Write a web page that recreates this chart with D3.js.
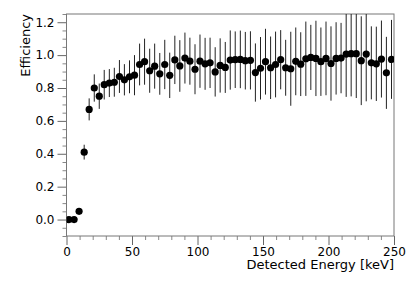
<!DOCTYPE html>
<html>
<head>
<meta charset="utf-8">
<script src="https://cdn.jsdelivr.net/npm/d3@7"></script>
<style>
  body { margin: 0; background: #fff; }
  text { font-family: "DejaVu Sans", sans-serif; }
</style>
</head>
<body>
<svg id="chart" width="415" height="281"></svg>
<script>
// bin centres of the detected energy histogram [keV]
var energies = [1.9, 5.8, 9.6, 13.5, 17.3, 21.2, 25.0, 28.8, 32.7, 36.5,
    40.4, 44.2, 48.1, 51.9, 55.8, 59.6, 63.5, 67.3, 71.2, 75.0,
    78.8, 82.7, 86.5, 90.4, 94.2, 98.1, 101.9, 105.8, 109.6, 113.5,
    117.3, 121.2, 125.0, 128.8, 132.7, 136.5, 140.4, 144.2, 148.1, 151.9,
    155.8, 159.6, 163.5, 167.3, 171.2, 175.0, 178.8, 182.7, 186.5, 190.4,
    194.2, 198.1, 201.9, 205.8, 209.6, 213.5, 217.3, 221.2, 225.0, 228.8,
    232.7, 236.5, 240.4, 244.2, 248.1];

var efficiency = [0.0, 0.0, 0.05, 0.41, 0.67, 0.80, 0.75, 0.82, 0.83, 0.835,
    0.87, 0.85, 0.868, 0.878, 0.943, 0.96, 0.905, 0.933, 0.886, 0.943,
    0.877, 0.971, 0.934, 0.982, 0.963, 0.914, 0.963, 0.947, 0.953, 0.898,
    0.937, 0.925, 0.97, 0.972, 0.974, 0.966, 0.968, 0.894, 0.92, 0.96,
    0.923, 0.943, 0.972, 0.923, 0.917, 0.962, 0.945, 0.978, 0.986, 0.98,
    0.96, 0.98, 0.949, 0.98, 0.982, 1.006, 1.009, 1.009, 0.966, 1.006,
    0.953, 0.947, 0.976, 0.892, 0.974];

var errors = [0, 0, 0.01, 0.045, 0.067, 0.083, 0.077, 0.09, 0.085, 0.088,
    0.1, 0.095, 0.1, 0.122, 0.127, 0.14, 0.134, 0.137, 0.127, 0.15,
    0.138, 0.147, 0.157, 0.155, 0.143, 0.152, 0.162, 0.158, 0.153, 0.15,
    0.165, 0.155, 0.18, 0.172, 0.175, 0.175, 0.177, 0.177, 0.19, 0.2,
    0.19, 0.2, 0.18, 0.17, 0.225, 0.206, 0.194, 0.226, 0.198, 0.229,
    0.208, 0.224, 0.226, 0.22, 0.214, 0.26, 0.26, 0.27, 0.27, 0.287,
    0.222, 0.226, 0.234, 0.219, 0.24];

var xMajor = [0, 50, 100, 150, 200, 250];
var yMajor = [0.0, 0.2, 0.4, 0.6, 0.8, 1.0, 1.2];

var plotLeft = 66.5, plotRight = 394, plotTop = 14, plotBottom = 236;

var svg = d3.select("#chart");

var x = d3.scaleLinear().domain([0, 250]).range([plotLeft, plotRight]);
var y = d3.scaleLinear().domain([-0.1, 1.25]).range([plotBottom, plotTop]);

svg.append("defs").append("clipPath").attr("id", "plotclip")
    .append("rect")
    .attr("x", plotLeft).attr("y", plotTop)
    .attr("width", plotRight - plotLeft).attr("height", plotBottom - plotTop);

// minor ticks
var xMinor = d3.range(0, 251, 10).filter(function(d) { return d % 50 != 0; });
var yMinor = d3.range(-0.1, 1.26, 0.05).filter(function(d) {
    return Math.abs(d * 5 - Math.round(d * 5)) > 0.01;
});

svg.append("g")
    .attr("transform", "translate(0," + plotBottom + ")")
    .call(d3.axisBottom(x).tickValues(xMinor).tickSize(4).tickFormat(""))
    .call(function(g) { g.select(".domain").remove(); g.selectAll("line").attr("stroke", "#888"); });

svg.append("g")
    .attr("transform", "translate(" + plotLeft + ",0)")
    .call(d3.axisLeft(y).tickValues(yMinor).tickSize(4).tickFormat(""))
    .call(function(g) { g.select(".domain").remove(); g.selectAll("line").attr("stroke", "#888"); });

// major ticks + labels
svg.append("g")
    .attr("transform", "translate(0," + plotBottom + ")")
    .call(d3.axisBottom(x).tickValues(xMajor).tickSize(9).tickPadding(2).tickFormat(d3.format("d")))
    .call(function(g) {
        g.select(".domain").remove();
        g.selectAll("line").attr("stroke", "#666");
        g.selectAll("text").attr("font-size", "12px").attr("font-family", "DejaVu Sans").attr("fill", "#000");
    });

svg.append("g")
    .attr("transform", "translate(" + plotLeft + ",0)")
    .call(d3.axisLeft(y).tickValues(yMajor).tickSize(9).tickPadding(3).tickFormat(d3.format(".1f")))
    .call(function(g) {
        g.select(".domain").remove();
        g.selectAll("line").attr("stroke", "#666");
        g.selectAll("text").attr("font-size", "12px").attr("font-family", "DejaVu Sans").attr("fill", "#000");
    });

// frame
svg.append("rect")
    .attr("x", plotLeft).attr("y", plotTop)
    .attr("width", plotRight - plotLeft).attr("height", plotBottom - plotTop)
    .attr("fill", "none").attr("stroke", "#777").attr("stroke-width", 1);

var plot = svg.append("g").attr("clip-path", "url(#plotclip)");

// error bars
plot.selectAll("line.err")
    .data(energies)
    .enter().append("line")
    .attr("class", "err")
    .attr("x1", function(d) { return x(d); })
    .attr("x2", function(d) { return x(d); })
    .attr("y1", function(d, i) { return y(efficiency[i] - errors[i]); })
    .attr("y2", function(d, i) { return y(efficiency[i] + errors[i]); })
    .attr("stroke", "#222")
    .attr("stroke-width", 1);

// markers
plot.selectAll("circle")
    .data(energies)
    .enter().append("circle")
    .attr("cx", function(d) { return x(d); })
    .attr("cy", function(d, i) { return y(efficiency[i]); })
    .attr("r", 3.6)
    .attr("fill", "#000");

// axis titles
svg.append("text")
    .attr("x", plotRight).attr("y", 269)
    .attr("text-anchor", "end")
    .attr("font-size", "13px")
    .text("Detected Energy [keV]");

svg.append("text")
    .attr("transform", "translate(30," + plotTop + ") rotate(-90)")
    .attr("text-anchor", "end")
    .attr("font-size", "13px")
    .text("Efficiency");
</script>
</body>
</html>
